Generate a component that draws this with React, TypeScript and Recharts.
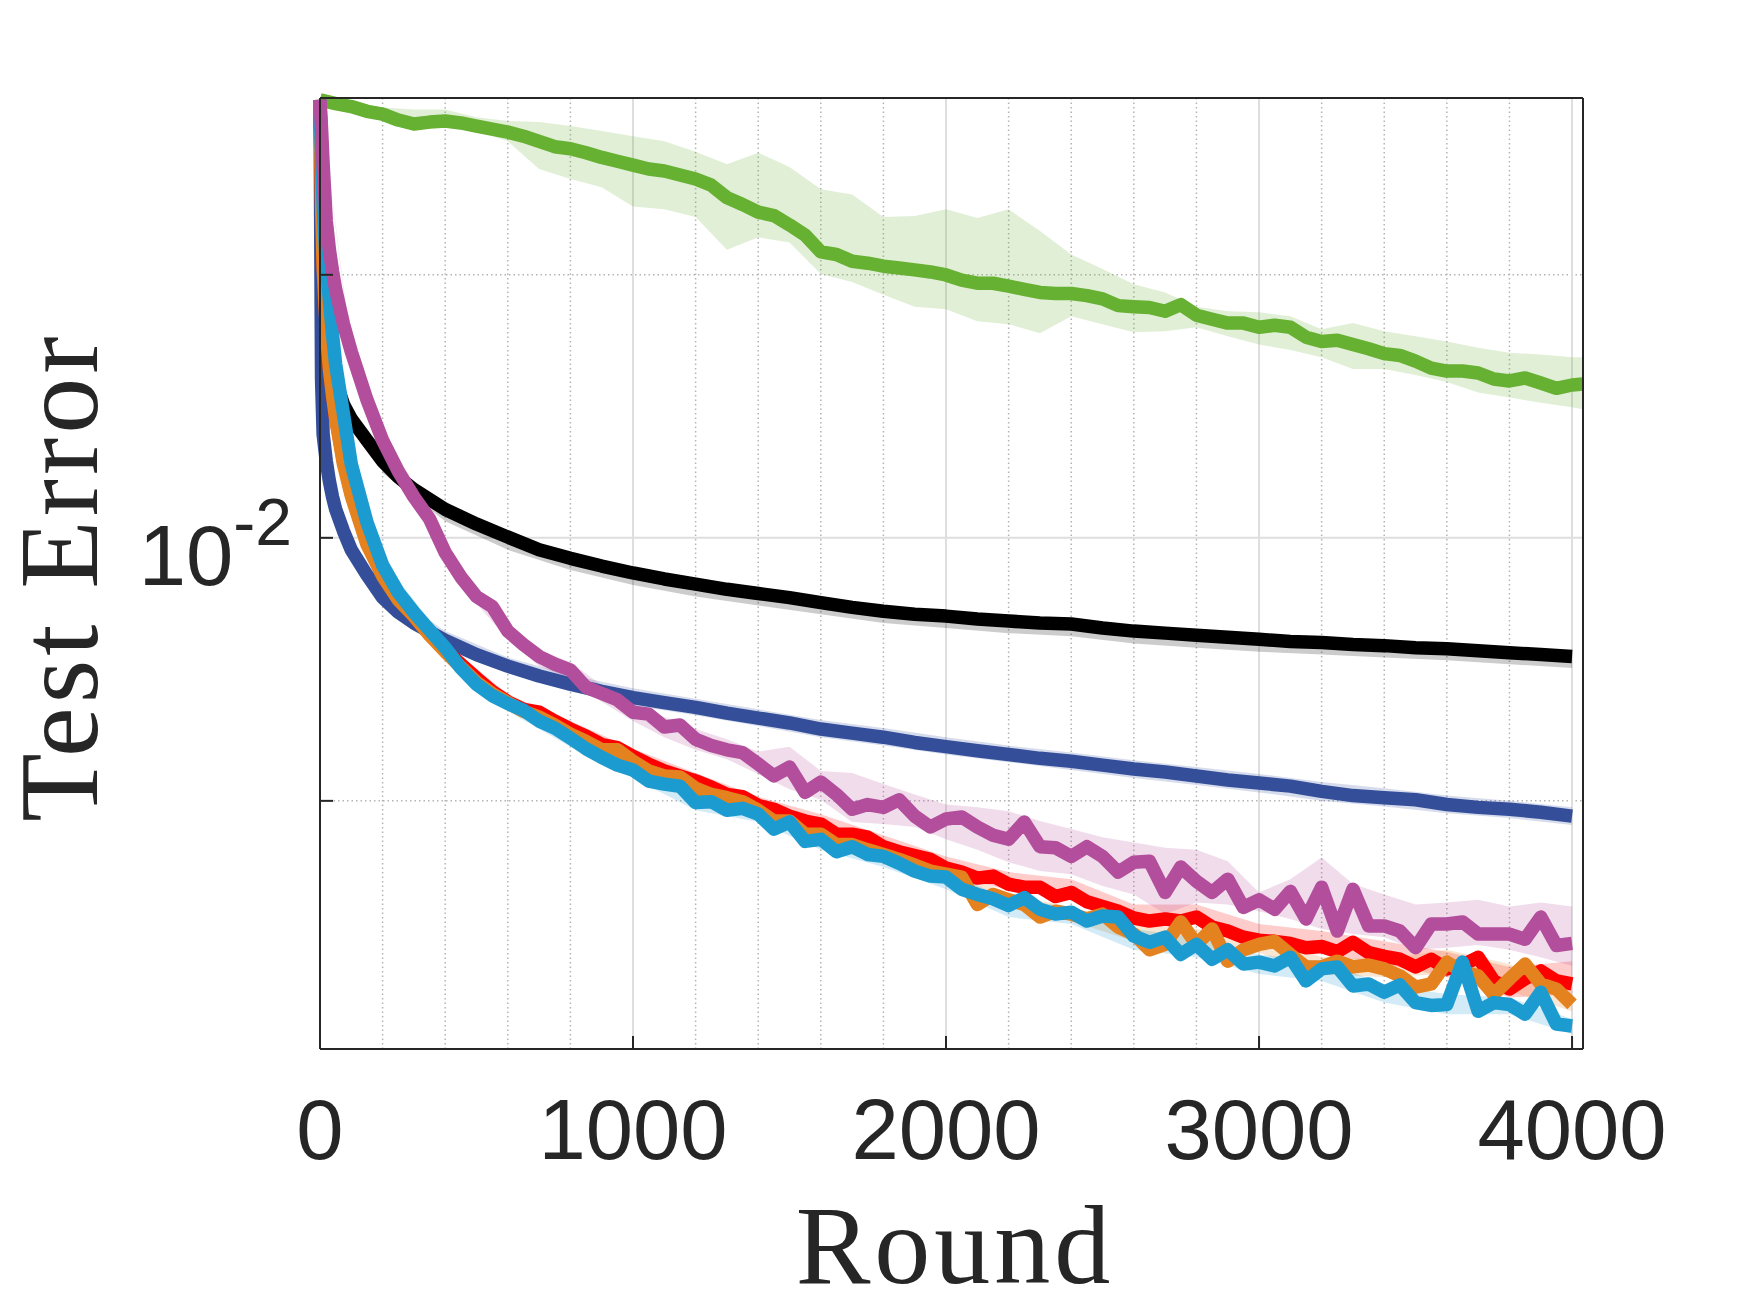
import { Area, CartesianGrid, ComposedChart, Line, XAxis, YAxis } from "recharts";

// Test error is stored in units of 1e-3 and scaled when the rows are built.
const UNIT = 1e-3;

const INK = "#262626";
const SANS = '"Liberation Sans", Arial, Helvetica, sans-serif';
const SERIF = '"Liberation Serif", "Times New Roman", serif';

const X_TICKS = [0, 1000, 2000, 3000, 4000];
const Y_TICKS = [0.005, 0.01, 0.02];
const X_MINOR = [200, 400, 600, 800, 1200, 1400, 1600, 1800, 2200, 2400, 2600, 2800, 3200, 3400, 3600, 3800];

const ROUNDS_FINE = [
  0, 5, 10, 20, 30, 40, 50, 75, 100, 150, 200, 250, 300, 350, 400, 450, 500, 550, 600, 650, 700, 750, 800, 850,
  900, 950, 1000, 1050, 1100, 1150, 1200, 1250, 1300, 1350, 1400, 1450, 1500, 1550, 1600, 1650, 1700, 1750,
  1800, 1850, 1900, 1950, 2000, 2050, 2100, 2150, 2200, 2250, 2300, 2350, 2400, 2450, 2500, 2550, 2600, 2650,
  2700, 2750, 2800, 2850, 2900, 2950, 3000, 3050, 3100, 3150, 3200, 3250, 3300, 3350, 3400, 3450, 3500, 3550,
  3600, 3650, 3700, 3750, 3800, 3850, 3900, 3950, 4000,
];
const ROUNDS_SMOOTH = [
  0, 5, 10, 20, 30, 40, 50, 75, 100, 150, 200, 250, 300, 400, 500, 600, 700, 800, 900, 1000, 1100, 1200, 1300,
  1400, 1500, 1600, 1700, 1800, 1900, 2000, 2100, 2200, 2300, 2400, 2500, 2600, 2700, 2800, 2900, 3000, 3100,
  3200, 3300, 3400, 3500, 3600, 3700, 3800, 3900, 4000,
];
const ROUNDS_GREEN = [
  0, 50, 100, 150, 200, 250, 300, 350, 400, 450, 500, 550, 600, 650, 700, 750, 800, 850, 900, 950, 1000, 1050,
  1100, 1150, 1200, 1250, 1300, 1350, 1400, 1450, 1500, 1550, 1600, 1650, 1700, 1750, 1800, 1850, 1900, 1950,
  2000, 2050, 2100, 2150, 2200, 2250, 2300, 2350, 2400, 2450, 2500, 2550, 2600, 2650, 2700, 2750, 2800, 2850,
  2900, 2950, 3000, 3050, 3100, 3150, 3200, 3250, 3300, 3350, 3400, 3450, 3500, 3550, 3600, 3650, 3700, 3750,
  3800, 3850, 3900, 3950, 4000, 4035,
];
const BAND_ROUNDS_100 = [
  0, 100, 200, 300, 400, 500, 600, 700, 800, 900, 1000, 1100, 1200, 1300, 1400, 1500, 1600, 1700, 1800, 1900,
  2000, 2100, 2200, 2300, 2400, 2500, 2600, 2700, 2800, 2900, 3000, 3100, 3200, 3300, 3400, 3500, 3600, 3700,
  3800, 3900, 4000,
];
const BAND_ROUNDS_GREEN = [...BAND_ROUNDS_100, 4035];
const BAND_ROUNDS_200 = [
  200, 400, 600, 800, 1000, 1200, 1400, 1600, 1800, 2000, 2200, 2400, 2600, 2800, 3000, 3200, 3400, 3600, 3800, 4000,
];

// green
const GREEN_ERR = [
  31.71, 31.4, 31.16, 30.77, 30.54, 30.07, 29.76, 29.91, 29.99, 29.84,
  29.6, 29.36, 29.13, 28.82, 28.43, 28.03, 27.88, 27.59, 27.25, 26.98,
  26.7, 26.43, 26.29, 26.02, 25.74, 25.33, 24.51, 24.07, 23.59, 23.38,
  22.81, 22.2, 21.25, 21.1, 20.73, 20.62, 20.46, 20.36, 20.26, 20.15,
  19.99, 19.72, 19.56, 19.56, 19.41, 19.25, 19.09, 19.04, 19.04, 18.93,
  18.77, 18.44, 18.39, 18.35, 18.17, 18.49, 17.98, 17.79, 17.61, 17.61,
  17.42, 17.51, 17.42, 16.97, 16.78, 16.83, 16.64, 16.46, 16.25, 16.17,
  15.93, 15.64, 15.52, 15.52, 15.44, 15.2, 15.12, 15.24, 15.04, 14.83,
  14.96, 15.0,
];
const GREEN_HI = [
  31.71, 31.55, 31.08, 30.92, 30.92, 30.3, 29.99, 29.91, 29.6, 29.21, 28.82, 28.43, 27.66, 26.77, 27.59, 26.57,
  25.05, 24.71, 23.29, 23.35, 23.77, 23.23, 23.77, 22.44, 21.1, 20.31, 19.51, 19.09, 18.39, 18.17, 18.12, 17.93,
  17.33, 17.61, 17.24, 17.01, 16.78, 16.5, 16.29, 16.21, 16.09, 16.09,
];
const GREEN_LO = [
  31.71, 30.77, 30.46, 29.6, 29.6, 29.21, 28.43, 26.43, 25.74, 25.19, 23.95, 23.77, 23.29, 21.36, 22.08, 21.78,
  20.04, 19.62, 18.98, 18.39, 18.26, 17.7, 17.56, 17.15, 17.93, 17.56, 17.19, 17.24, 17.42, 17.01, 16.64, 16.41,
  16.09, 15.6, 15.6, 15.36, 15.08, 14.67, 14.47, 14.28, 14.11, 14.03,
];

// black
const BLACK_ERR = [
  31.71, 26.43, 23.47, 20.73, 18.03, 15.93, 15.12, 14.21, 13.68, 12.93, 12.24, 11.74, 11.36,
  10.78, 10.37, 10.02, 9.689, 9.474, 9.283, 9.115, 8.972, 8.853, 8.732, 8.637, 8.541, 8.43, 8.325, 8.241,
  8.178, 8.136, 8.073, 8.031, 7.989, 7.968, 7.884, 7.821, 7.779, 7.737, 7.695, 7.653, 7.611, 7.59, 7.548,
  7.527, 7.485, 7.464, 7.426, 7.389, 7.352, 7.315,
];
const BLACK_HI = [
  12.3, 10.83, 10.07, 9.522, 9.163, 8.901, 8.684, 8.472, 8.283, 8.178, 8.073, 8.01, 7.863, 7.779, 7.695, 7.632,
  7.569, 7.506, 7.426, 7.352,
];
const BLACK_LO = [
  11.86, 10.45, 9.689, 9.187, 8.829, 8.565, 8.367, 8.178, 7.989, 7.884, 7.779, 7.716, 7.569, 7.486, 7.407, 7.352,
  7.297, 7.242, 7.168, 7.094,
];

// dark blue
const BLUE_ERR = [
  31.71, 15.2, 13.14, 12.24, 11.61, 11.14, 10.78, 10.18, 9.689, 9.068, 8.542, 8.22, 7.989,
  7.632, 7.352, 7.131, 6.948, 6.801, 6.672, 6.562, 6.477, 6.396, 6.3, 6.219, 6.139, 6.042, 5.977, 5.913, 5.832,
  5.768, 5.706, 5.65, 5.593, 5.551, 5.494, 5.438, 5.396, 5.339, 5.283, 5.24, 5.198, 5.127, 5.07, 5.042, 5.014,
  4.952, 4.915, 4.89, 4.853, 4.803,
];
const BLUE_HI = [
  8.757, 7.821, 7.297, 6.966, 6.727, 6.543, 6.364, 6.187, 6.058, 5.913, 5.784, 5.678, 5.565, 5.466, 5.368, 5.254,
  5.169, 5.07, 5.002, 4.915,
];
const BLUE_LO = [
  8.409, 7.507, 7.002, 6.672, 6.428, 6.267, 6.09, 5.913, 5.784, 5.65, 5.537, 5.424, 5.311, 5.212, 5.113, 5.002,
  4.927, 4.84, 4.778, 4.692,
];

// magenta
const MAGENTA_ERR = [
  31.71, 29.36, 26.77, 23.05, 21.36, 20.2, 19.25, 17.57, 16.33,
  14.39, 12.93, 11.92, 11.14, 10.51, 9.617, 9.02, 8.565, 8.346, 7.821,
  7.549, 7.315, 7.168, 7.058, 6.745, 6.635, 6.525, 6.316, 6.284, 6.074,
  6.106, 5.881, 5.784, 5.72, 5.678, 5.509, 5.339, 5.466, 5.113, 5.254,
  5.085, 4.89, 4.952, 4.915, 5.014, 4.803, 4.667, 4.766, 4.791, 4.667,
  4.568, 4.518, 4.729, 4.431, 4.419, 4.319, 4.431, 4.319, 4.144, 4.253,
  4.264, 3.928, 4.199, 4.046, 3.928, 4.068, 3.776, 3.852, 3.757, 3.939,
  3.662, 3.983, 3.548, 3.961, 3.596, 3.596, 3.548, 3.396, 3.614, 3.614,
  3.634, 3.52, 3.52, 3.52, 3.472, 3.681, 3.415, 3.434,
];
const MAGENTA_HI = [
  31.71, 16.46, 13.07, 11.27, 9.744, 8.685, 7.947, 7.444, 7.205, 6.783, 6.461, 6.235, 6.042, 5.881, 5.692, 5.768,
  5.41, 5.382, 5.226, 5.085, 4.952, 4.915, 4.865, 4.741, 4.642, 4.543, 4.481, 4.419, 4.395, 4.264, 3.928, 4.068,
  4.308, 4.015, 3.907, 3.805, 3.824, 3.852, 3.786, 3.824, 3.786,
];
const MAGENTA_LO = [
  31.71, 16.21, 12.79, 11.02, 9.498, 8.409, 7.653, 7.131, 6.892, 6.493, 6.171, 5.913, 5.72, 5.579, 5.368, 5.155,
  5.014, 4.729, 4.704, 4.667, 4.518, 4.395, 4.253, 4.155, 4.122, 3.994, 3.907, 3.71, 3.824, 3.805, 3.738, 3.662,
  3.567, 3.52, 3.491, 3.377, 3.394, 3.419, 3.377, 3.311, 3.236,
];

// red
const RED_ERR = [
  31.71, 24.37, 20.73, 17.57, 15.68, 14.63, 13.75, 12.24, 11.24,
  9.88, 9.092, 8.541, 8.136, 7.758, 7.444, 7.168, 6.91, 6.672, 6.493,
  6.364, 6.316, 6.171, 6.042, 5.93, 5.8, 5.752, 5.621, 5.509, 5.411,
  5.34, 5.27, 5.185, 5.085, 5.056, 4.94, 4.89, 4.803, 4.741, 4.704,
  4.58, 4.58, 4.543, 4.431, 4.373, 4.33, 4.286, 4.188, 4.144, 4.079,
  4.101, 4.014, 3.982, 3.982, 3.885, 3.928, 3.833, 3.786, 3.738, 3.672,
  3.643, 3.662, 3.643, 3.681, 3.586, 3.548, 3.491, 3.463, 3.453, 3.434,
  3.396, 3.406, 3.36, 3.444, 3.352, 3.319, 3.294, 3.228, 3.294, 3.211,
  3.244, 3.311, 3.111, 3.045, 3.128, 3.194, 3.111, 3.086,
];
const RED_HI = [
  9.259, 7.59, 6.616, 6.171, 5.736, 5.382, 5.056, 4.828, 4.568, 4.319, 4.144, 4.068, 3.805, 3.805, 3.614, 3.548,
  3.453, 3.36, 3.228, 3.277,
];
const RED_LO = [
  8.948, 7.334, 6.396, 5.946, 5.537, 5.183, 4.865, 4.63, 4.362, 4.122, 3.95, 3.863, 3.614, 3.614, 3.396, 3.344,
  3.252, 3.144, 2.977, 3.003,
];

// orange
const ORANGE_ERR = [
  31.71, 24.07, 20.41, 17.33, 15.6, 14.55, 13.68, 12.14, 11.17,
  9.826, 9.044, 8.493, 8.136, 7.737, 7.407, 7.113, 6.837, 6.635, 6.477,
  6.332, 6.235, 6.106, 5.962, 5.848, 5.72, 5.72, 5.551, 5.411, 5.34,
  5.326, 5.169, 5.085, 5.042, 4.989, 4.878, 4.741, 4.741, 4.58, 4.58,
  4.456, 4.456, 4.395, 4.341, 4.286, 4.221, 4.155, 4.122, 4.09, 3.805,
  3.907, 3.852, 3.805, 3.681, 3.738, 3.71, 3.662, 3.71, 3.586, 3.52,
  3.377, 3.425, 3.634, 3.425, 3.567, 3.277, 3.377, 3.425, 3.453, 3.336,
  3.228, 3.228, 3.277, 3.228, 3.244, 3.211, 3.153, 3.061, 3.086, 3.269,
  3.186, 3.153, 3.003, 3.128, 3.252, 3.086, 3.045, 2.924,
];
const ORANGE_HI = [
  9.187, 7.528, 6.58, 6.057, 5.635, 5.254, 4.952, 4.654, 4.407, 4.188, 3.917, 3.776, 3.614, 3.567, 3.52, 3.311,
  3.294, 3.377, 3.252, 3.003,
];
const ORANGE_LO = [
  8.876, 7.278, 6.364, 5.849, 5.452, 5.07, 4.791, 4.493, 4.264, 4.046, 3.786, 3.643, 3.453, 3.352, 3.352, 3.161,
  3.144, 3.169, 3.028, 2.872,
];

// cyan
const CYAN_ERR = [
  31.71, 27.11, 24.07, 20.57, 18.72, 17.1, 15.8, 13.86, 12.14,
  10.42, 9.307, 8.661, 8.22, 7.842, 7.486, 7.094, 6.8, 6.598, 6.461,
  6.348, 6.171, 6.057, 5.898, 5.736, 5.607, 5.494, 5.424, 5.268, 5.226,
  5.197, 4.977, 4.989, 4.878, 4.902, 4.828, 4.642, 4.729, 4.493, 4.518,
  4.373, 4.431, 4.341, 4.319, 4.242, 4.155, 4.101, 4.09, 3.961, 3.907,
  3.863, 3.795, 3.874, 3.757, 3.71, 3.729, 3.643, 3.691, 3.681, 3.501,
  3.444, 3.491, 3.336, 3.425, 3.294, 3.377, 3.252, 3.269, 3.236, 3.311,
  3.111, 3.211, 3.228, 3.07, 3.086, 3.02, 3.078, 2.938, 2.916, 2.924,
  3.269, 2.872, 2.938, 2.924, 2.85, 3.02, 2.777, 2.763,
];
const CYAN_HI = [
  9.45, 7.611, 6.562, 5.994, 5.509, 5.056, 4.902, 4.592, 4.384, 4.155, 3.852, 3.786, 3.567, 3.491, 3.336, 3.277,
  3.086, 3.003, 2.977, 2.814,
];
const CYAN_LO = [
  9.115, 7.334, 6.332, 5.768, 5.311, 4.878, 4.729, 4.395, 4.199, 3.961, 3.681, 3.614, 3.377, 3.311, 3.169, 3.111,
  2.938, 2.85, 2.85, 2.705,
];

const toRows = (xs: number[], ys: number[]) => xs.map((r, i) => ({ r, v: ys[i] * UNIT }));
const toBand = (xs: number[], lo: number[], hi: number[]) =>
  xs.map((r, i) => ({ r, band: [lo[i] * UNIT, hi[i] * UNIT] }));

const SERIES = [
  { key: "green", color: "#66b032", line: toRows(ROUNDS_GREEN, GREEN_ERR), band: toBand(BAND_ROUNDS_GREEN, GREEN_LO, GREEN_HI) },
  { key: "black", color: "#000000", line: toRows(ROUNDS_SMOOTH, BLACK_ERR), band: toBand(BAND_ROUNDS_200, BLACK_LO, BLACK_HI) },
  { key: "blue", color: "#344e9a", line: toRows(ROUNDS_SMOOTH, BLUE_ERR), band: toBand(BAND_ROUNDS_200, BLUE_LO, BLUE_HI) },
  { key: "red", color: "#ff0000", line: toRows(ROUNDS_FINE, RED_ERR), band: toBand(BAND_ROUNDS_200, RED_LO, RED_HI) },
  { key: "orange", color: "#e3821e", line: toRows(ROUNDS_FINE, ORANGE_ERR), band: toBand(BAND_ROUNDS_200, ORANGE_LO, ORANGE_HI) },
  { key: "cyan", color: "#1c9bd0", line: toRows(ROUNDS_FINE, CYAN_ERR), band: toBand(BAND_ROUNDS_200, CYAN_LO, CYAN_HI) },
  { key: "magenta", color: "#b24e9b", line: toRows(ROUNDS_FINE, MAGENTA_ERR), band: toBand(BAND_ROUNDS_100, MAGENTA_LO, MAGENTA_HI) },
];

const AXIS_LINE = { stroke: INK, strokeWidth: 2 };
const X_DOMAIN = [0, 4035];
const Y_DOMAIN = [0.0026, 0.03187];

function YTick(props: any) {
  const { x, y, payload } = props;
  if (payload.value !== 0.01) return <g />;
  return (
    <text x={x} y={y + 47} textAnchor="end" fill={INK} fontFamily={SANS}>
      <tspan fontSize={85}>10</tspan>
      <tspan fontSize={66} dy={-40}>
        -2
      </tspan>
    </text>
  );
}

export default function App() {
  return (
    <div style={{ position: "absolute", left: 0, top: 0, width: 1750, height: 1313, background: "#fff" }}>
      <ComposedChart width={1750} height={1313} margin={{ top: 97, right: 166, bottom: 263, left: 319 }}>
        <CartesianGrid
          verticalValues={X_MINOR}
          horizontalValues={[0.005, 0.02]}
          stroke="#b4b4b4"
          strokeWidth={1.5}
          strokeDasharray="1.5 3"
        />
        <CartesianGrid verticalValues={X_TICKS} horizontalValues={[0.01]} stroke="#dedede" strokeWidth={2} />
        <XAxis
          dataKey="r"
          type="number"
          domain={X_DOMAIN}
          ticks={X_TICKS}
          interval={0}
          height={1}
          tickSize={-13}
          tickMargin={63}
          axisLine={AXIS_LINE}
          tickLine={AXIS_LINE}
          tick={{ fontSize: 85, fill: INK, fontFamily: SANS }}
        />
        <XAxis
          xAxisId="top"
          orientation="top"
          dataKey="r"
          type="number"
          domain={X_DOMAIN}
          ticks={X_TICKS}
          interval={0}
          height={1}
          tickSize={-13}
          axisLine={AXIS_LINE}
          tickLine={AXIS_LINE}
          tick={false}
        />
        <YAxis
          scale="log"
          type="number"
          domain={Y_DOMAIN}
          ticks={Y_TICKS}
          interval={0}
          width={1}
          tickSize={-13}
          tickMargin={41}
          axisLine={AXIS_LINE}
          tickLine={AXIS_LINE}
          tick={YTick}
        />
        <YAxis
          yAxisId="right"
          orientation="right"
          scale="log"
          type="number"
          domain={Y_DOMAIN}
          ticks={Y_TICKS}
          interval={0}
          width={1}
          tickSize={-13}
          axisLine={AXIS_LINE}
          tickLine={AXIS_LINE}
          tick={false}
        />
        {SERIES.flatMap((s) => [
          <Area
            key={`${s.key}-band`}
            data={s.band}
            dataKey="band"
            type="linear"
            stroke="none"
            fill={s.color}
            fillOpacity={0.2}
            dot={false}
            activeDot={false}
            isAnimationActive={false}
          />,
          <Line
            key={`${s.key}-line`}
            data={s.line}
            dataKey="v"
            type="linear"
            stroke={s.color}
            strokeWidth={13.5}
            strokeLinejoin="round"
            dot={false}
            activeDot={false}
            isAnimationActive={false}
          />,
        ])}
      </ComposedChart>
      <svg
        width={1750}
        height={1313}
        style={{ position: "absolute", left: 0, top: 0, pointerEvents: "none" }}
      >
        <text x={955} y={1283} textAnchor="middle" fontFamily={SERIF} fontSize={112} letterSpacing={4} fill={INK}>
          Round
        </text>
        <text
          transform="translate(97,577) rotate(-90)"
          textAnchor="middle"
          fontFamily={SERIF}
          fontSize={112}
          letterSpacing={4}
          fill={INK}
        >
          Test Error
        </text>
      </svg>
    </div>
  );
}
